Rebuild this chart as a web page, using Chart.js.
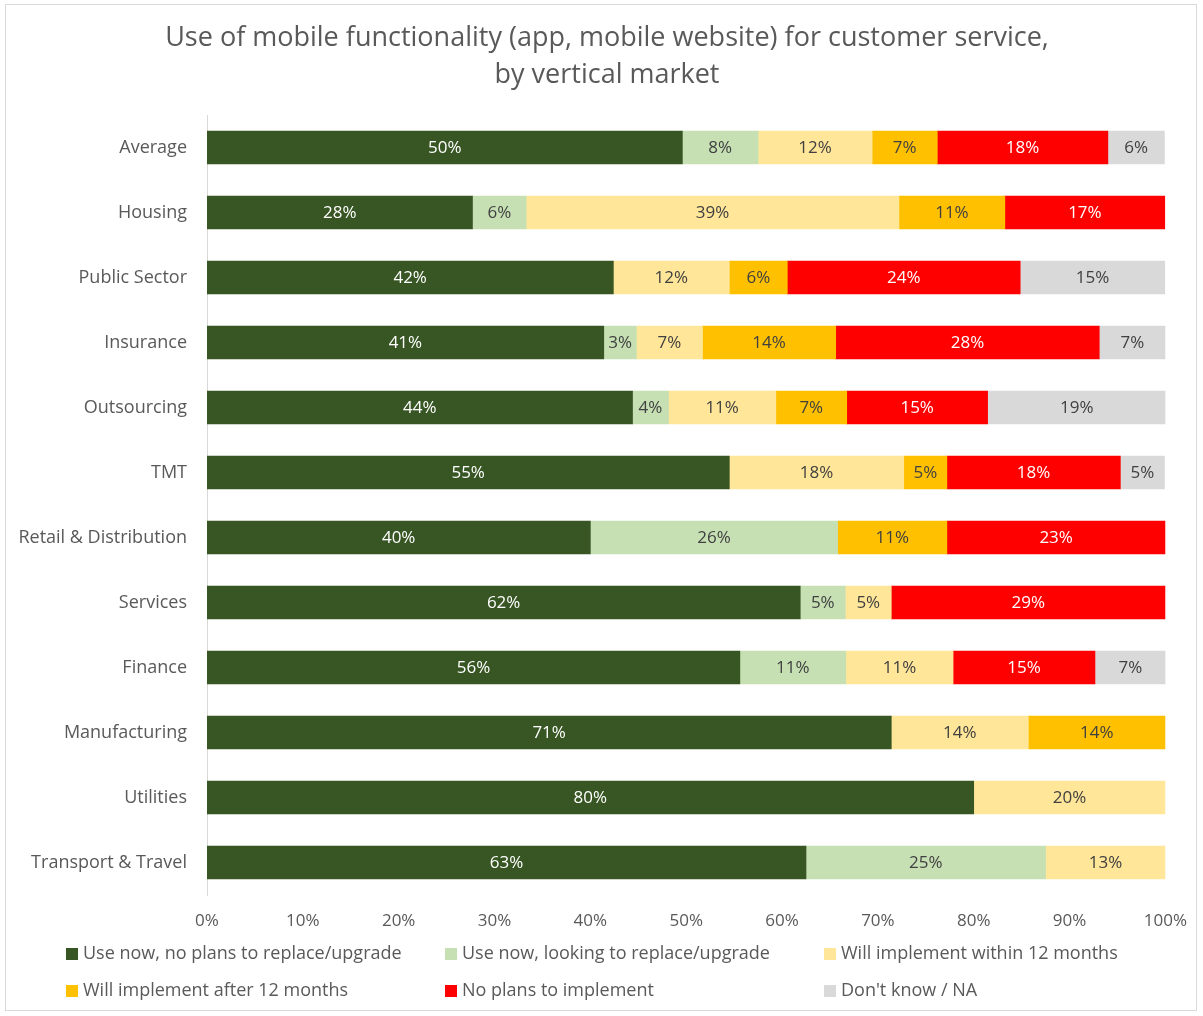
<!DOCTYPE html>
<html>
<head>
  <meta charset="utf-8" />
  <title>Mobile functionality by vertical market</title>
  <script src="https://cdn.jsdelivr.net/npm/chart.js"></script>
  <style>
    body { margin: 0; background: #fff; }
    #wrap { position: relative; width: 1203px; height: 1016px; }
    #frame { position: absolute; left: 5px; top: 4px; width: 1192px; height: 1007px; border: 1px solid #d9d9d9; box-sizing: border-box; pointer-events: none; }
  </style>
</head>
<body>
<div id="wrap">
  <canvas id="chart" width="1203" height="1016"></canvas>
  <div id="frame"></div>
</div>
<script>
const FONT = '"Open Sans", sans-serif';
const TEXT = '#595959';

const titleLines = ['Use of mobile functionality (app, mobile website) for customer service,', 'by vertical market'];

const categories = ['Average', 'Housing', 'Public Sector', 'Insurance', 'Outsourcing', 'TMT',
  'Retail & Distribution', 'Services', 'Finance', 'Manufacturing', 'Utilities', 'Transport & Travel'];

// segment shares in %
const useNowNoPlans  = [49.6, 27.7, 42.4, 41.4, 44.4, 54.5, 40.0, 61.9, 55.6, 71.4, 80.0, 62.5];
const useNowLooking  = [7.9, 5.6, null, 3.4, 3.75, null, 25.8, 4.7, 11.05, null, null, 25.0];
const within12Months = [11.9, 38.9, 12.1, 6.9, 11.2, 18.2, null, 4.8, 11.2, 14.3, 20.0, 12.5];
const after12Months  = [6.8, 11.05, 6.05, 13.9, 7.4, 4.5, 11.4, null, null, 14.3, null, null];
const noPlans        = [17.8, 16.7, 24.3, 27.5, 14.7, 18.1, 22.8, 28.6, 14.8, null, null, null];
const dontKnow       = [5.9, null, 15.1, 6.9, 18.6, 4.6, null, null, 7.4, null, null, null];

const seriesNames = ['Use now, no plans to replace/upgrade', 'Use now, looking to replace/upgrade',
  'Will implement within 12 months', 'Will implement after 12 months', 'No plans to implement', "Don't know / NA"];
const seriesData = [useNowNoPlans, useNowLooking, within12Months, after12Months, noPlans, dontKnow];
const colors = ['#375623', '#c6e0b4', '#ffe699', '#ffc000', '#ff0000', '#d9d9d9'];
const labelColors = ['#ffffff', '#404040', '#404040', '#404040', '#ffffff', '#404040'];

const xTicks = [0, 10, 20, 30, 40, 50, 60, 70, 80, 90, 100];

const datasets = seriesNames.map((name, i) => ({
  label: name,
  data: seriesData[i],
  backgroundColor: colors[i],
  borderWidth: 0,
  barThickness: 33
}));

// title, value labels and the two-row legend are drawn on the canvas
const extras = {
  id: 'extras',
  afterDatasetsDraw(chart) {
    const ctx = chart.ctx;
    ctx.save();
    ctx.font = '17px ' + FONT;
    ctx.textAlign = 'center';
    ctx.textBaseline = 'middle';
    chart.data.datasets.forEach((ds, i) => {
      const meta = chart.getDatasetMeta(i);
      meta.data.forEach((bar, j) => {
        const v = ds.data[j];
        if (v == null) return;
        ctx.fillStyle = labelColors[i];
        ctx.fillText(Math.round(v) + '%', (bar.x + bar.base) / 2, bar.y + 1);
      });
    });
    ctx.restore();
  },
  afterDraw(chart) {
    const ctx = chart.ctx;
    ctx.save();
    ctx.fillStyle = TEXT;
    ctx.textAlign = 'center';
    ctx.textBaseline = 'middle';
    ctx.font = '27px ' + FONT;
    titleLines.forEach((t, k) => ctx.fillText(t, 607, 38 + k * 37));

    ctx.font = '18px ' + FONT;
    ctx.textAlign = 'left';
    const colX = [66, 445, 824];
    const rowY = [954, 991];
    seriesNames.forEach((name, i) => {
      const x = colX[i % 3];
      const y = rowY[Math.floor(i / 3)];
      ctx.fillStyle = colors[i];
      ctx.fillRect(x, y - 6, 12, 12);
      ctx.fillStyle = TEXT;
      ctx.fillText(name, x + 17, y);
    });
    ctx.restore();
  }
};

new Chart(document.getElementById('chart'), {
  type: 'bar',
  data: { labels: categories, datasets },
  options: {
    indexAxis: 'y',
    responsive: false,
    animation: false,
    layout: { padding: { top: 115, right: 37, bottom: 81, left: 0 } },
    plugins: {
      legend: { display: false },
      title: { display: false },
      tooltip: { enabled: false }
    },
    scales: {
      x: {
        stacked: true,
        min: 0,
        max: 100,
        afterBuildTicks(scale) { scale.ticks = xTicks.map(v => ({ value: v })); },
        afterFit(scale) { scale.height = 40; },
        grid: { display: false, drawTicks: false },
        border: { display: false },
        ticks: { padding: 16, color: TEXT, font: { family: FONT, size: 17 }, callback: v => v + '%' }
      },
      y: {
        stacked: true,
        afterFit(scale) { scale.width = 207; },
        grid: { display: false, drawTicks: false },
        border: { display: true, color: '#d9d9d9', width: 1 },
        ticks: { padding: 20, color: TEXT, font: { family: FONT, size: 18 } }
      }
    }
  },
  plugins: [extras]
});
</script>
</body>
</html>
